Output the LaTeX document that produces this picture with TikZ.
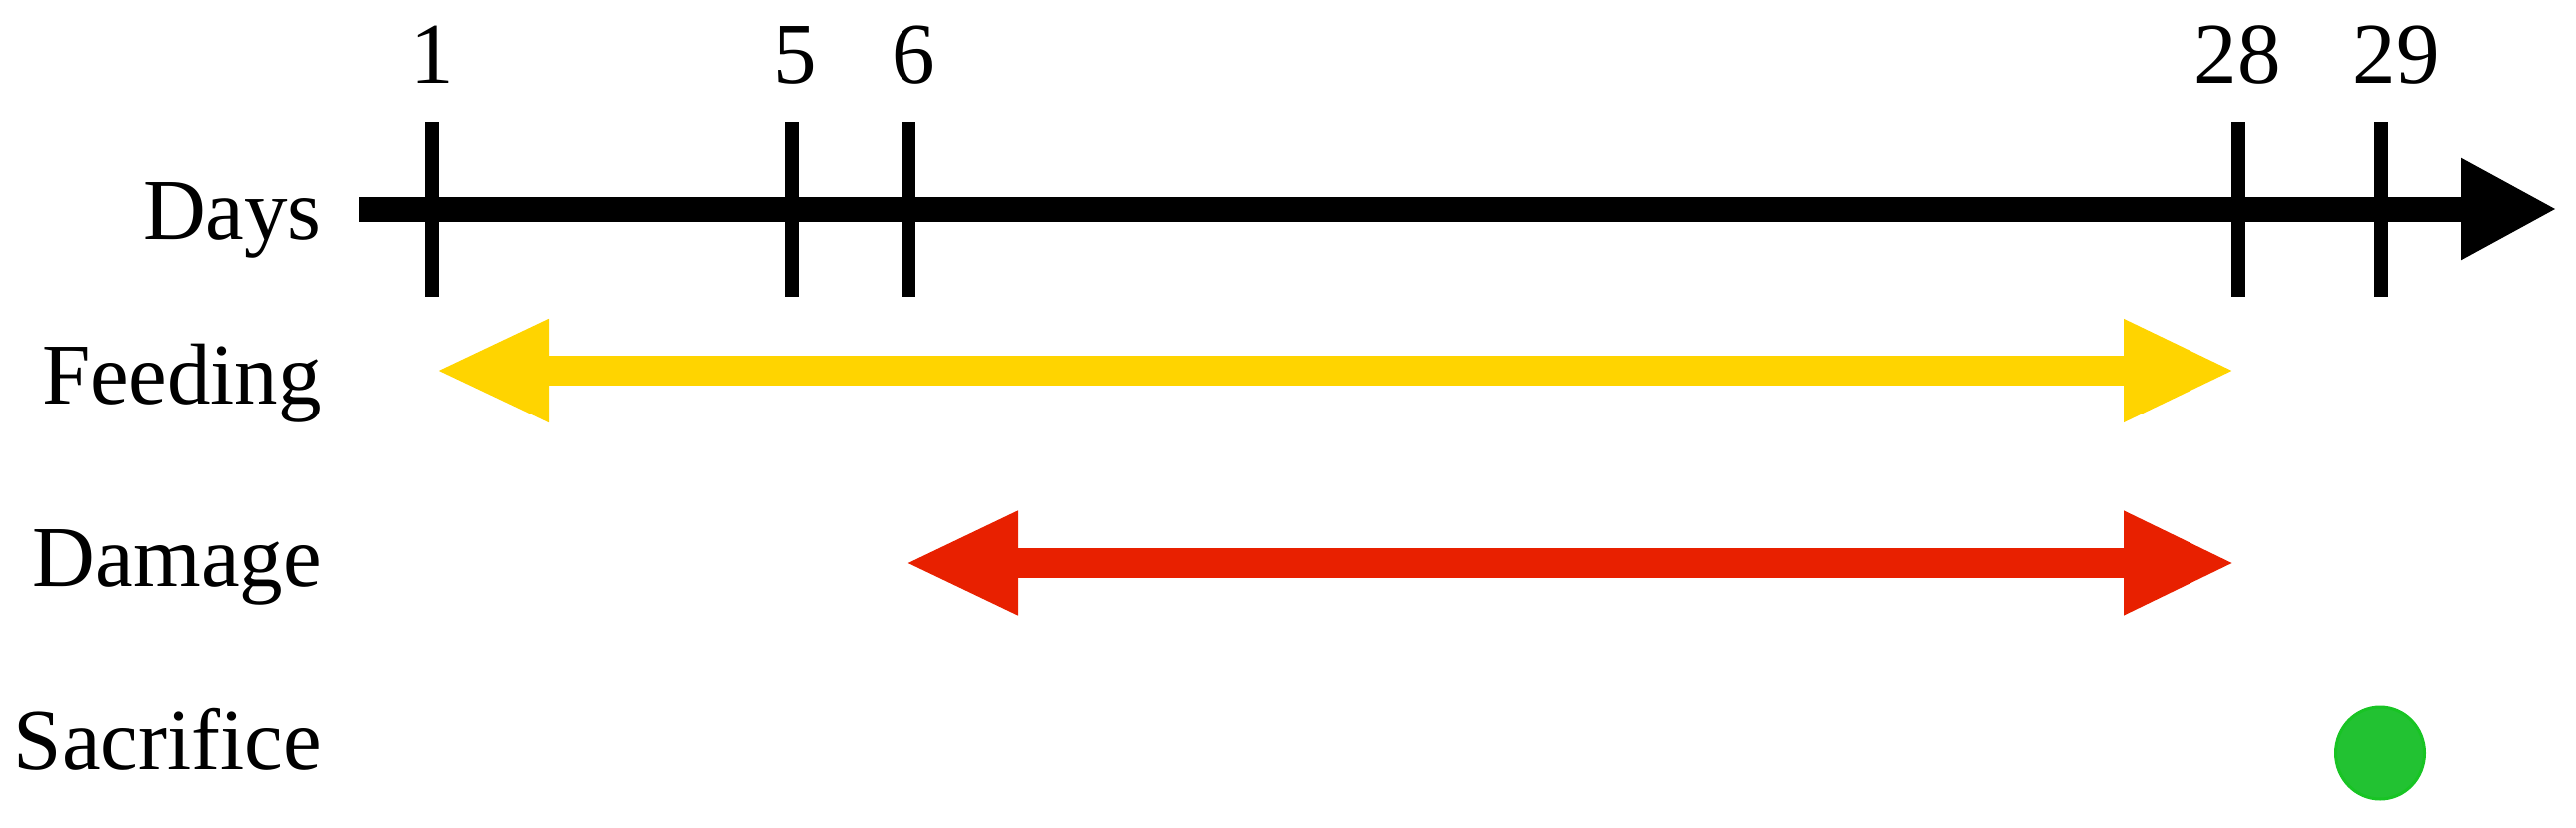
\documentclass[tikz,border=0pt]{standalone}
\usepackage{fontspec}
\setmainfont{Liberation Serif}
\usetikzlibrary{arrows.meta,shapes.geometric}
\definecolor{feedc}{RGB}{255,212,0}
\definecolor{dmgc}{RGB}{232,32,0}
\definecolor{sacc}{RGB}{34,194,50}
\definecolor{sacedge}{RGB}{24,196,36}
\tikzset{
  rowlabel/.style={anchor=base east,inner sep=0pt,font=\fontsize{87}{100}\selectfont},
  daylabel/.style={anchor=base,inner sep=0pt,font=\fontsize{87}{100}\selectfont},
  tickline/.style={line width=14pt},
  axisline/.style={line width=25pt,-{Triangle[length=96pt,width=95pt]}},
  feedarrow/.style={draw=feedc,line width=30pt,{Triangle[length=114pt,width=95pt]}-{Triangle[length=112pt,width=95pt]}},
  dmgarrow/.style={draw=dmgc,line width=30pt,{Triangle[length=114pt,width=96pt]}-{Triangle[length=112pt,width=96pt]}},
  sacdot/.style={ellipse,fill=sacc,draw=sacedge,line width=3pt,minimum width=89pt,minimum height=92pt,inner sep=0pt}
}
\begin{document}
\begin{tikzpicture}[x=1pt,y=-1pt]
\useasboundingbox (0,0) rectangle (2586,830);
% row labels
\node[rowlabel] (ldays) at (323,240) {Days};
\node[rowlabel] (lfeed) at (323,405) {Feeding};
\node[rowlabel] (ldmg) at (323,588) {Damage};
\node[rowlabel] (lsac) at (323,772) {Sacrifice};
% axis
\coordinate (axs) at (360,210);
\coordinate (axe) at (2567,210);
\draw[axisline] (axs) -- (axe);
% ticks
\foreach \n/\x in {t1/434,t5/795,t6/912,t28/2247,t29/2390}{
  \coordinate (\n top) at (\x,122);
  \coordinate (\n bot) at (\x,298);
  \draw[tickline] (\n top) -- (\n bot);
}
\node[daylabel] (d1) at (434,83) {1};
\node[daylabel] (d5) at (798,83) {5};
\node[daylabel] (d6) at (917,83) {6};
\node[daylabel] (d28) at (2246,83) {28};
\node[daylabel] (d29) at (2405,83) {29};
% feeding
\coordinate (fs) at (437,372);
\coordinate (fe) at (2244,372);
\draw[feedarrow] (fs) -- (fe);
% damage
\coordinate (ds) at (908,565);
\coordinate (de) at (2244,565);
\draw[dmgarrow] (ds) -- (de);
% sacrifice
\node[sacdot] (sac) at (2389,756) {};
\end{tikzpicture}
\end{document}
